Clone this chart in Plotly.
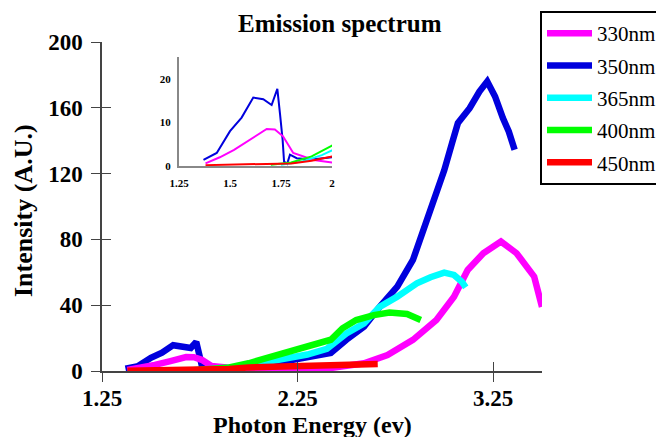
import plotly.graph_objects as go

# ---------------- data ----------------
labels = ["330nm", "350nm", "365nm", "400nm", "450nm"]
colors = ["#ff00ff", "#0000dd", "#00ffff", "#00ff00", "#ff0000"]

x_330 = [1.38, 1.45, 1.52, 1.60, 1.68, 1.72, 1.76, 1.81, 1.86, 1.91, 2.00, 2.10, 2.20, 2.30, 2.42, 2.50,
         2.59, 2.71, 2.84, 2.96, 3.05, 3.12, 3.20, 3.29, 3.37, 3.46, 3.50]
y_330 = [0.6, 2.0, 3.7, 6.0, 8.5, 8.4, 6.8, 3.0, 2.2, 1.4, 0.8, 0.7, 0.7, 0.8, 1.8, 3.0,
         4.7, 9.7, 18.9, 31.0, 45.2, 61.4, 71.6, 78.7, 71.6, 57.4, 39.0]

x_350 = [1.37, 1.435, 1.50, 1.557, 1.614, 1.663, 1.704, 1.732, 1.745, 1.758, 1.765, 1.78, 1.794, 1.827,
         1.90, 2.00, 2.10, 2.20, 2.30, 2.38, 2.42, 2.50, 2.59, 2.67, 2.76, 2.84, 2.89, 2.95, 3.00,
         3.04, 3.07, 3.13, 3.18, 3.22, 3.26, 3.30, 3.33, 3.36]
y_350 = [1.4, 3.0, 8.0, 11.1, 15.7, 15.3, 14.0, 17.7, 12.0, 6.0, 1.0, 0.5, 2.6, 1.8,
         1.5, 2.0, 4.0, 6.0, 8.0, 10.5, 11.0, 19.0, 27.0, 39.0, 51.3, 67.5, 84.0, 105.0, 122.0,
         138.5, 150.7, 159.8, 169.9, 176.0, 166.9, 153.7, 145.6, 134.5]

x_365 = [1.75, 1.85, 1.95, 2.00, 2.10, 2.20, 2.30, 2.40, 2.50, 2.59, 2.67, 2.76, 2.86, 2.93, 3.00,
         3.05, 3.09, 3.11]
y_365 = [0.3, 1.0, 2.5, 3.6, 6.0, 8.0, 10.0, 13.5, 22.9, 29.0, 39.0, 45.2, 53.3, 57.0, 59.8,
         58.4, 54.3, 50.9]

x_400 = [1.70, 1.80, 1.90, 2.00, 2.07, 2.14, 2.23, 2.31, 2.38, 2.42, 2.48, 2.55, 2.64, 2.72, 2.81, 2.88]
y_400 = [0.3, 0.8, 2.2, 4.7, 7.0, 10.0, 12.5, 14.8, 17.0, 19.0, 26.0, 31.0, 34.0, 35.5, 34.7, 31.0]

x_450 = [1.38, 1.50, 1.60, 1.70, 1.80, 1.90, 2.00, 2.10, 2.20, 2.30, 2.40, 2.50, 2.58, 2.62, 2.66]
y_450 = [0.2, 0.3, 0.3, 0.4, 0.6, 1.2, 2.2, 2.6, 2.9, 3.2, 3.5, 3.7, 3.9, 4.3, 4.3]

main_xticks = [1.25, 2.25, 3.25]
main_xticklabels = ["1.25", "2.25", "3.25"]
main_yticks = [0, 40, 80, 120, 160, 200]
inset_xticks = [1.25, 1.5, 1.75, 2]
inset_xticklabels = ["1.25", "1.5", "1.75", "2"]
inset_yticks = [0, 10, 20]

series = {
    "330nm": (x_330, y_330),
    "350nm": (x_350, y_350),
    "365nm": (x_365, y_365),
    "400nm": (x_400, y_400),
    "450nm": (x_450, y_450),
}
draw_order = ["350nm", "330nm", "365nm", "400nm", "450nm"]

FONT = "Liberation Serif, Times New Roman, DejaVu Serif, serif"
fig = go.Figure()

for name in draw_order:
    i = labels.index(name)
    xs, ys = series[name]
    fig.add_trace(go.Scatter(x=xs, y=ys, mode="lines", name=name,
                             line=dict(color=colors[i], width=6.5),
                             legendrank=i + 1, legendgroup=name,
                             xaxis="x", yaxis="y"))
for name in draw_order:
    i = labels.index(name)
    xs, ys = series[name]
    fig.add_trace(go.Scatter(x=xs, y=ys, mode="lines", name=name, showlegend=False,
                             line=dict(color=colors[i], width=2),
                             xaxis="x2", yaxis="y2"))

# dummy trace for the crossing (inside) tick half
fig.add_trace(go.Scatter(x=[None], y=[None], xaxis="x3", yaxis="y3", showlegend=False,
                         hoverinfo="skip"))

tickfont_main = dict(family=FONT, size=23, color="black", weight="bold")
axcol = "#444444"

fig.update_layout(
    width=656, height=437,
    margin=dict(l=0, r=0, t=0, b=0, autoexpand=False),
    paper_bgcolor="white", plot_bgcolor="rgba(0,0,0,0)",
    showlegend=True,
    xaxis=dict(domain=[102/656, 542/656], range=[1.25, 3.5], tickvals=main_xticks,
               ticktext=main_xticklabels, ticks="outside", ticklen=9, tickcolor=axcol,
               showline=True, linecolor=axcol, linewidth=1.5, showgrid=False, zeroline=False,
               tickfont=tickfont_main, anchor="y", ticklabelstandoff=-3, automargin=False),
    yaxis=dict(domain=[66/437, 395/437], range=[0, 200], tickvals=main_yticks,
               ticks="outside", ticklen=9, tickcolor=axcol,
               showline=True, linecolor=axcol, linewidth=1.5, showgrid=False, zeroline=False,
               tickfont=tickfont_main, anchor="x", ticklabelstandoff=4, automargin=False),
    xaxis3=dict(overlaying="x", range=[1.25, 3.5], tickvals=main_xticks, ticks="inside",
                ticklen=9, tickcolor=axcol, showticklabels=False, showline=False,
                showgrid=False, zeroline=False, anchor="y3", automargin=False),
    yaxis3=dict(overlaying="y", range=[0, 200], tickvals=main_yticks, ticks="inside",
                ticklen=9, tickcolor=axcol, showticklabels=False, showline=False,
                showgrid=False, zeroline=False, anchor="x3", automargin=False),
    xaxis2=dict(domain=[179/656, 332/656], range=[1.25, 2.0], tickvals=inset_xticks,
                ticktext=inset_xticklabels, ticks="", showline=True, linecolor="#888888",
                linewidth=2, showgrid=False, zeroline=False, anchor="y2",
                tickfont=dict(family=FONT, size=11, color="black", weight="bold"),
                ticklabelstandoff=6, automargin=False),
    yaxis2=dict(domain=[271/437, 380/437], range=[0, 25], tickvals=inset_yticks,
                ticks="", showline=True, linecolor="#888888", linewidth=2,
                showgrid=False, zeroline=False, anchor="x2",
                tickfont=dict(family=FONT, size=11, color="black", weight="bold"),
                ticklabelstandoff=4, automargin=False),
    legend=dict(x=540/656, y=426/437, xanchor="left", yanchor="top",
                xref="container", yref="container",
                bordercolor="black", borderwidth=2, bgcolor="white",
                font=dict(family=FONT, size=21, color="black"),
                tracegroupgap=2, itemwidth=45),
    annotations=[
        dict(text="<b>Emission spectrum</b>", x=340/656, y=(437-23)/437, xref="paper",
             yref="paper", showarrow=False, xanchor="center", yanchor="middle",
             font=dict(family=FONT, size=25, color="black")),
        dict(text="<b>Photon Energy (ev)</b>", x=312/656, y=(437-425)/437, xref="paper",
             yref="paper", showarrow=False, xanchor="center", yanchor="middle",
             font=dict(family=FONT, size=24, color="black")),
        dict(text="<b>Intensity (A.U.)</b>", x=23/656, y=(437-211)/437, xref="paper",
             yref="paper", showarrow=False, xanchor="center", yanchor="middle",
             textangle=-90, font=dict(family=FONT, size=26, color="black")),
    ],
)

fig.write_html("out.html")
